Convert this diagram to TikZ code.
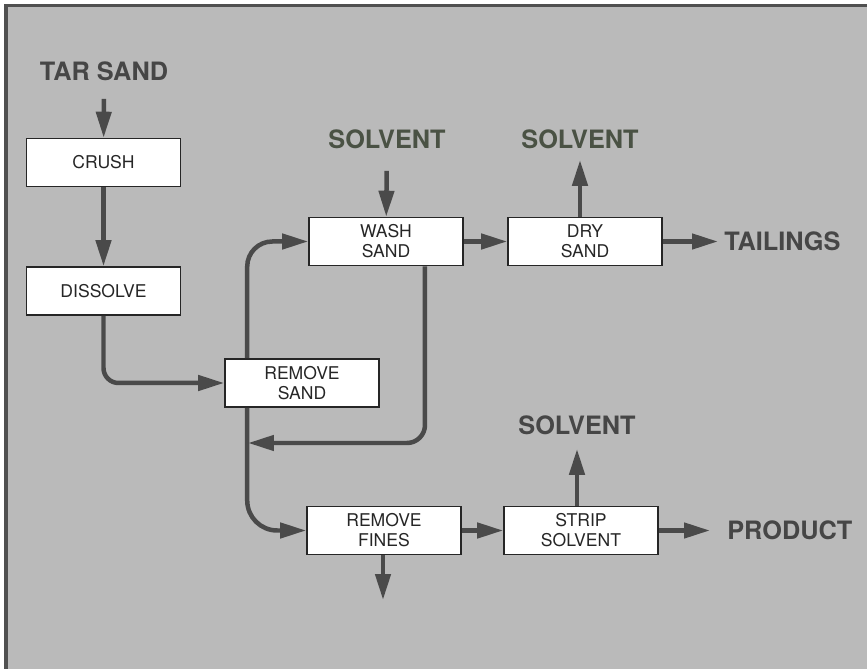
\documentclass[tikz,border=0pt]{standalone}
\usepackage{fontspec}
\setmainfont{TeX Gyre Heros}
\usetikzlibrary{arrows.meta}
\definecolor{bggray}{RGB}{186,186,186}
\definecolor{framegray}{RGB}{80,80,80}
\definecolor{flowgray}{RGB}{74,74,74}
\definecolor{labelgray}{RGB}{70,70,70}
\definecolor{labelolive}{RGB}{74,82,68}
\begin{document}
\begin{tikzpicture}[x=0.02cm, y=-0.02cm,
	opbox/.style={draw=black!85, line width=0.9pt, fill=white, text=black!85, inner sep=0pt,
		minimum width=3.08cm, minimum height=0.96cm, align=center,
		font=\fontsize{10pt}{11.4pt}\selectfont},
	stream/.style={inner sep=0pt, text=labelgray, font=\fontsize{14.4pt}{16pt}\selectfont\bfseries},
	flow/.style={draw=flowgray, line width=0.09cm, -{Triangle[length=0.52cm, width=0.3cm]}}]
		\useasboundingbox (0,0) rectangle (867,669);
		\fill [white] (0,0) rectangle (867,669);
		\fill [bggray] (6,5.5) rectangle (867,669);
		\draw [framegray, line width=0.07cm] (6,669) -- (6,5.5) -- (867,5.5);
		\node [opbox] (crush) at (103.5,162.5) {CRUSH};
		\node [opbox] (dissolve) at (103.5,291) {DISSOLVE};
		\node [opbox] (rsand) at (302,383) {REMOVE\\SAND};
		\node [opbox] (wash) at (386,241.5) {WASH\\SAND};
		\node [opbox] (dry) at (585,241.5) {DRY\\SAND};
		\node [opbox] (fines) at (384,530.5) {REMOVE\\FINES};
		\node [opbox] (strip) at (581,530.5) {STRIP\\SOLVENT};
		\node [stream] (tar) at (104,71) {TAR SAND};
		\node [stream, text=labelolive] (solvA) at (387,139) {SOLVENT};
		\node [stream, text=labelolive] (solvB) at (580,139) {SOLVENT};
		\node [stream, anchor=west] (tailings) at (724,241.5) {TAILINGS};
		\node [stream] (solvC) at (577,425) {SOLVENT};
		\node [stream, anchor=west] (product) at (727,530.5) {PRODUCT};
		\coordinate (join) at (248,443);
		\coordinate (fout) at (383,600);
		\draw [flow, shorten <=0.36cm] (tar) -- (crush);
		\draw [flow] (crush) -- (dissolve);
		\draw [flow, rounded corners=0.3cm] (dissolve) |- (rsand);
		\draw [flow, rounded corners=0.5cm] ([xshift=0.46cm]rsand.north west) |- (wash);
		\draw [flow, rounded corners=0.6cm] ([xshift=0.46cm]rsand.south west) |- (fines);
		\draw [flow, rounded corners=0.36cm] ([xshift=0.78cm]wash.south) |- (join);
		\draw [flow, shorten <=0.44cm] (solvA) -- (wash);
		\draw [flow] (wash) -- (dry);
		\draw [flow, shorten >=0.22cm] (dry.north -| solvB) -- (solvB);
		\draw [flow, shorten >=0.12cm] (dry) -- (tailings);
		\draw [flow] (fines) -- (strip);
		\draw [flow, shorten >=0.28cm] (strip.north -| solvC) -- (solvC);
		\draw [flow, shorten >=0.34cm] (strip) -- (product);
		\draw [flow] (fines.south -| fout) -- (fout);
\end{tikzpicture}
\end{document}
